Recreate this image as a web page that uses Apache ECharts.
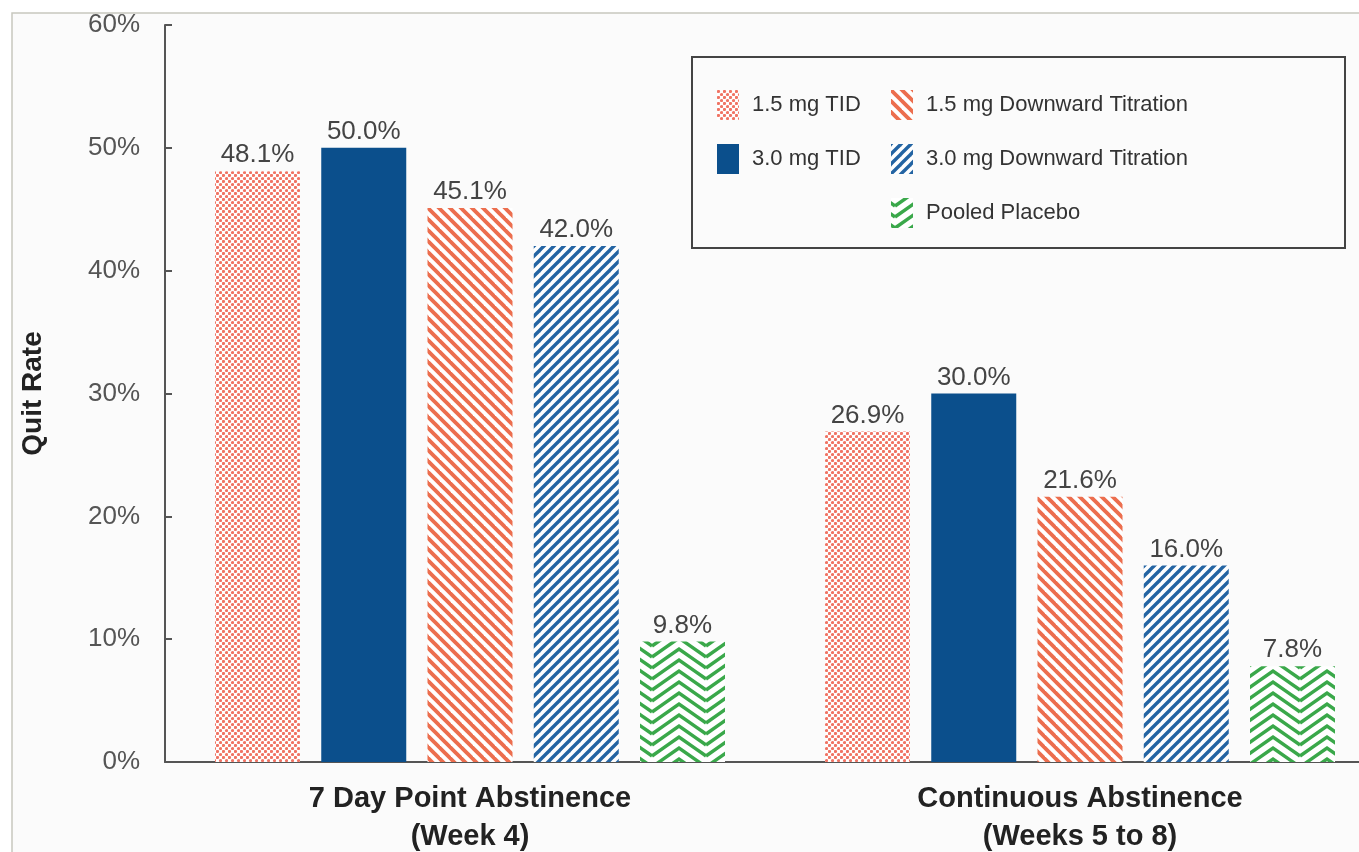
<!DOCTYPE html>
<html>
<head>
<meta charset="utf-8">
<script src="https://cdn.jsdelivr.net/npm/echarts@6/dist/echarts.min.js"></script>
<style>html,body{margin:0;padding:0;background:#fff}#c{width:1359px;height:852px}</style>
</head>
<body>
<div id="c"></div>
<script>
// ---- data ----
const categories = ['7 Day Point Abstinence\n(Week 4)', 'Continuous Abstinence\n(Weeks 5 to 8)'];
const seriesNames = ['1.5 mg TID', '3.0 mg TID', '1.5 mg Downward Titration', '3.0 mg Downward Titration', 'Pooled Placebo'];
const tid15 = [48.1, 26.9];
const tid30 = [50.0, 30.0];
const down15 = [45.1, 21.6];
const down30 = [42.0, 16.0];
const placebo = [9.8, 7.8];
const yTicks = [0, 10, 20, 30, 40, 50, 60];

// ---- patterns ----
function tile(w, h, draw) {
  const c = document.createElement('canvas');
  c.width = w; c.height = h;
  const ctx = c.getContext('2d');
  ctx.fillStyle = '#ffffff';
  ctx.fillRect(0, 0, w, h);
  draw(ctx, w, h);
  return { image: c, repeat: 'repeat' };
}
const dotPat = tile(6, 6, (ctx) => {
  ctx.fillStyle = '#f07464';
  [[1.5, 1.5], [4.5, 4.5]].forEach(p => { ctx.beginPath(); ctx.arc(p[0], p[1], 1.6, 0, Math.PI * 2); ctx.fill(); });
});
function stripes(s, color, lw, back) {
  return tile(s, s, (ctx) => {
    ctx.strokeStyle = color; ctx.lineWidth = lw; ctx.lineCap = 'square';
    for (let k = -2; k <= 2; k++) {
      ctx.beginPath();
      if (back) { ctx.moveTo(k * s, 0); ctx.lineTo(k * s + s, s); }
      else { ctx.moveTo(k * s, s); ctx.lineTo(k * s + s, 0); }
      ctx.stroke();
    }
  });
}
const orangePat = stripes(11, '#ec6e4e', 3.8, true);
const bluePat = stripes(10, '#2364a3', 3.4, false);
const chevPat = tile(54, 11, (ctx) => {
  ctx.strokeStyle = '#3aa84a'; ctx.lineWidth = 3.4; ctx.lineJoin = 'miter';
  for (let xo = -54; xo <= 54; xo += 54) {
    for (let k = -3; k <= 3; k++) {
      const y = k * 11;
      ctx.beginPath();
      ctx.moveTo(xo + 4, y + 19); ctx.lineTo(xo + 31, y); ctx.lineTo(xo + 58, y + 19);
      ctx.stroke();
    }
  }
});

const fills = [dotPat, '#0b4f8c', orangePat, bluePat, chevPat];
const values = [tid15, tid30, down15, down30, placebo];
const FONT = '"Liberation Sans", Arial, Helvetica, sans-serif';

const chart = echarts.init(document.getElementById('c'), null, { renderer: 'canvas' });
chart.setOption({
  backgroundColor: '#ffffff',
  animation: false,
  textStyle: { fontFamily: FONT },
  graphic: [
    { type: 'rect', z: -10, shape: { x: 12, y: 13, width: 1400, height: 900 }, style: { fill: '#fbfbfb', stroke: '#c8c8bf', lineWidth: 1.5 } },
    { type: 'rect', z: 1, shape: { x: 692, y: 57, width: 653, height: 191 }, style: { fill: 'none', stroke: '#444', lineWidth: 2 } }
  ],
  grid: { left: 165, top: 25, width: 1220, bottom: 90, containLabel: false, outerBoundsMode: 'none' },
  legend: [
    { data: [seriesNames[0], seriesNames[1]], orient: 'vertical', left: 712, top: 85, icon: 'rect', itemWidth: 22, itemHeight: 30, itemGap: 24,
      textStyle: { fontSize: 22, color: '#333', fontFamily: FONT, padding: [0, 0, 0, 8] } },
    { data: [seriesNames[2], seriesNames[3], seriesNames[4]], orient: 'vertical', left: 886, top: 85, icon: 'rect', itemWidth: 22, itemHeight: 30, itemGap: 24,
      textStyle: { fontSize: 22, color: '#333', fontFamily: FONT, padding: [0, 0, 0, 8] } }
  ],
  xAxis: {
    type: 'category', data: categories,
    axisLine: { lineStyle: { color: '#555', width: 2 } },
    axisTick: { show: false },
    axisLabel: { fontSize: 29, fontWeight: 'bold', color: '#222', lineHeight: 38, margin: 18, fontFamily: FONT }
  },
  yAxis: {
    type: 'value', min: yTicks[0], max: yTicks[yTicks.length - 1], interval: 10,
    name: 'Quit Rate', nameLocation: 'middle', nameGap: 118, nameRotate: 90,
    nameTextStyle: { fontSize: 28, fontWeight: 'bold', color: '#222', fontFamily: FONT },
    axisLine: { show: true, lineStyle: { color: '#555', width: 2 } },
    axisTick: { show: true, inside: true, length: 7, lineStyle: { color: '#555', width: 2 } },
    axisLabel: { formatter: '{value}%', fontSize: 26, color: '#555', margin: 25, fontFamily: FONT },
    splitLine: { show: false }
  },
  series: seriesNames.map((n, i) => ({
    name: n, type: 'bar', data: values[i], barWidth: 85, barGap: '25%',
    itemStyle: { color: fills[i] },
    label: { show: true, position: 'top', distance: 3, fontSize: 26, color: '#444', fontFamily: FONT,
      formatter: p => p.value.toFixed(1) + '%' }
  }))
});
</script>
</body>
</html>
